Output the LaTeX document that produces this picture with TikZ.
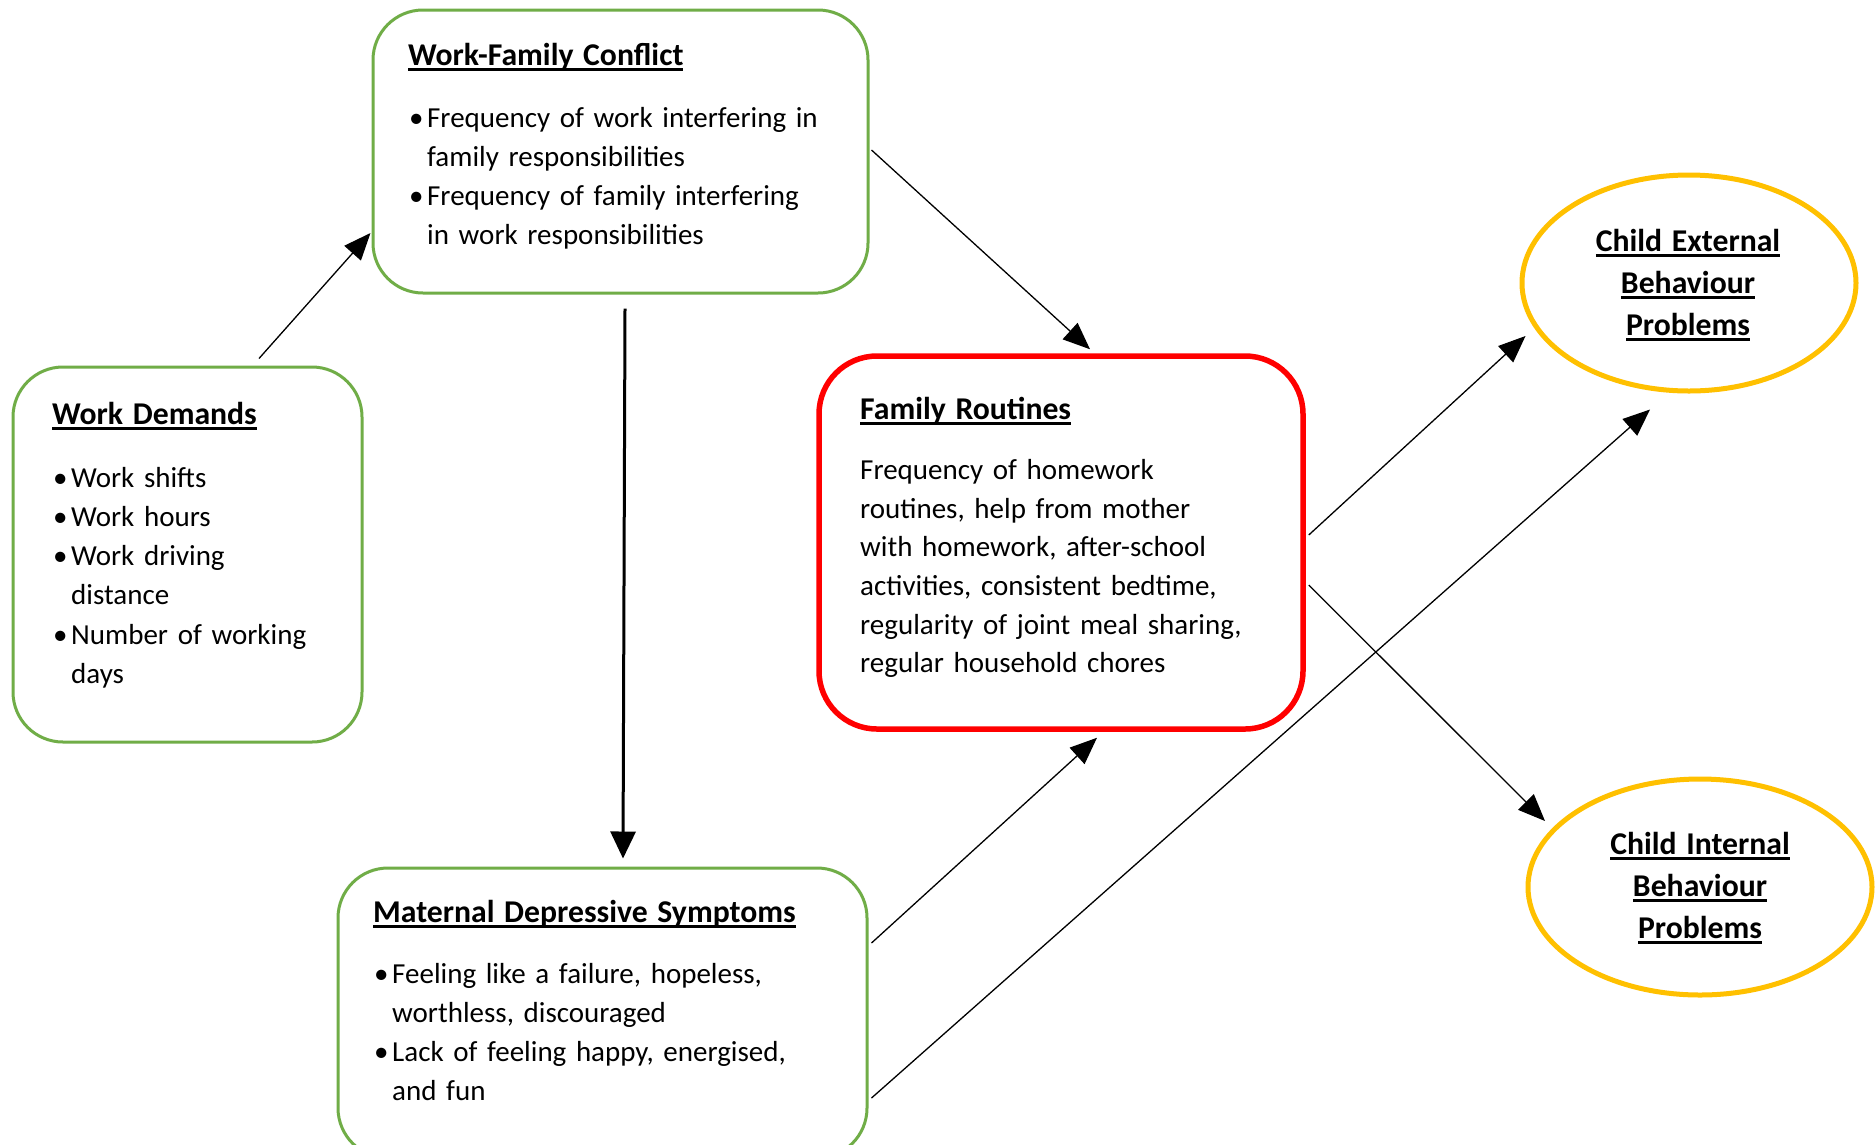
\documentclass[tikz,border=0pt]{standalone}
\usepackage{fontspec}
\setmainfont{Carlito}
\usetikzlibrary{arrows.meta,shapes.geometric,calc}
\definecolor{boxgreen}{HTML}{70AD47}
\definecolor{frred}{HTML}{FF0000}
\definecolor{goldc}{HTML}{FFC000}
\newsavebox\ulbox
\newcommand\ulin[1]{\leavevmode\sbox\ulbox{\fontsize{31.7}{38}\selectfont\bfseries #1}\rlap{\rule[-6pt]{\wd\ulbox}{2.7pt}}\usebox\ulbox}
\newcommand\bul{\makebox[19pt][l]{\hspace{1pt}\textbullet}}
\newcommand\cont{\hspace*{19pt}}
\newskip\myspace
\myspace=5pt plus 1pt minus 1pt
\DeclareRobustCommand\bodyfont{\fontsize{29}{39.2}\selectfont\spaceskip\myspace}
\DeclareRobustCommand\frfont{\fontsize{29}{38.6}\selectfont\spaceskip\myspace}
\tikzset{
  greenbox/.style={draw=boxgreen, line width=3pt, rounded corners=50pt, inner sep=0pt},
  redbox/.style={draw=frred, line width=5.5pt, rounded corners=58pt, inner sep=0pt},
  goldell/.style={ellipse, draw=goldc, line width=5pt, inner sep=0pt},
  txt/.style={anchor=base west, inner sep=0pt, align=left, text width=520pt, font=\bodyfont},
  etxt/.style={anchor=base, inner sep=0pt, align=center, text width=320pt, font=\fontsize{29}{42}\selectfont},
  arr/.style={-{Triangle[length=27pt,width=22pt]}, line width=1.3pt},
  varr/.style={-{Triangle[length=27pt,width=25pt]}, line width=3pt}
}
\begin{document}
\begin{tikzpicture}[x=1pt,y=-1pt]
\useasboundingbox (0,0) rectangle (1876,1144);
\clip (0,0) rectangle (1876,1144);
\fill[white] (0,0) rectangle (1876,1144);
% boxes
\node[greenbox, minimum width=349pt, minimum height=375pt] (wd) at (187.5,554.5) {};
\node[greenbox, minimum width=495pt, minimum height=283pt] (wfc) at (620.5,151.5) {};
\node[greenbox, minimum width=529pt, minimum height=290pt] (mds) at (602.5,1013) {};
\node[redbox, minimum width=484pt, minimum height=373pt] (fr) at (1061,542.5) {};
\node[goldell, minimum width=334pt, minimum height=216pt] (ext) at (1689,283) {};
\node[goldell, minimum width=344pt, minimum height=216pt] (int) at (1700,887) {};
% texts
\node[txt] (wdt) at (52,424) {\ulin{Work Demands}\\[24pt]
\bul Work shifts\\
\bul Work hours\\
\bul Work driving\\
\cont distance\\
\bul Number of working\\
\cont days};
\node[txt] (wfct) at (408,65) {\ulin{Work-Family Conflict}\\[23pt]
\bul Frequency of work interfering in\\
\cont family responsibilities\\
\bul Frequency of family interfering\\
\cont in work responsibilities};
\node[txt] (mdst) at (373,922) {\ulin{Maternal Depressive Symptoms}\\[22pt]
\bul Feeling like a failure, hopeless,\\
\cont worthless, discouraged\\
\bul Lack of feeling happy, energised,\\
\cont and fun};
\node[txt, font=\frfont] (frt) at (860,419) {\ulin{Family Routines}\\[22pt]
Frequency of homework\\
routines, help from mother\\
with homework, after-school\\
activities, consistent bedtime,\\
regularity of joint meal sharing,\\
regular household chores};
\node[etxt] (extt) at (1688,251) {\ulin{Child External}\\ \ulin{Behaviour}\\ \ulin{Problems}};
\node[etxt] (intt) at (1700,854) {\ulin{Child Internal}\\ \ulin{Behaviour}\\ \ulin{Problems}};
% connectors
\draw[arr] ($(wd.north)+(71.5,-7)$) -- ($(wfc.west)+(-1,81.5)$);
\draw[arr] ($(wfc.east)+(2,-1.5)$) -- ($(fr.north)+(29,-4)$);
\draw[varr] ($(wfc.south)+(4.5,14)$) -- ($(mds.north)+(20.5,-8)$);
\draw[arr] ($(mds.east)+(3,-70)$) -- ($(fr.south)+(36,6)$);
\draw[arr] ($(mds.east)+(3,85)$) -- ($(ext.south)+(-39,16)$);
\draw[arr] ($(fr.east)+(3,-7.5)$) -- ($(ext.west)+(6,53)$);
\draw[arr] ($(fr.east)+(3,42.5)$) -- ($(int.center)+(-155,-66)$);
\end{tikzpicture}
\end{document}
